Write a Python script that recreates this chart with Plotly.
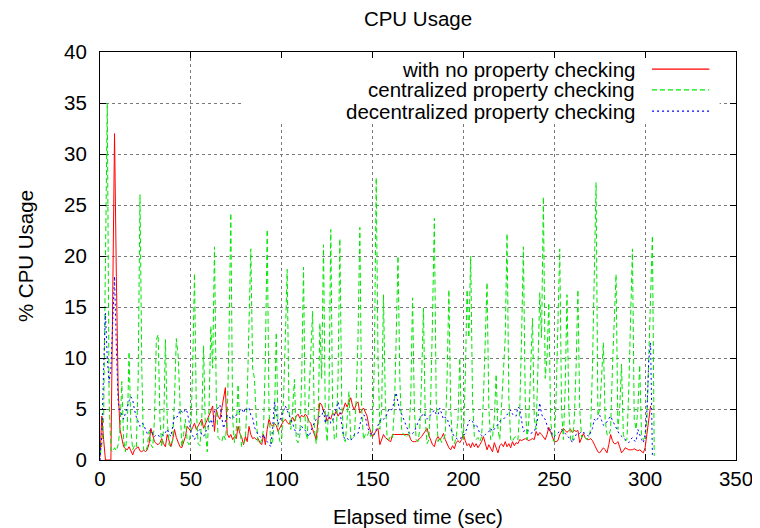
import plotly.graph_objects as go

# ---------------- data (1 sample per second) ----------------
no_check = [
    0.3, 4.3, 2.0, 0, 0, 0, 0, 16, 32, 18,
    7, 3, 2, 1.3, 1.1, 1.0, 1.3, 0.9, 0.5, 1.0,
    1.2, 1.3, 0.9, 0.8, 1.0, 0.8, 1.0, 1.6, 3.1, 2.3,
    1.8, 1.6, 1.5, 1.7, 2.1, 1.6, 1.3, 2.5, 1.8, 1.3,
    2.0, 3.0, 2.2, 1.7, 1.3, 1.2, 1.8, 2.3, 3.3, 3.0,
    2.8, 3.2, 3.6, 3.0, 3.3, 3.7, 4.0, 3.1, 3.5, 4.0,
    4.4, 4.8, 5.3, 2.8, 4.9, 4.3, 4.0, 5.0, 6.0, 7.1,
    2.6, 2.2, 2.5, 2.0, 2.3, 2.1, 3.3, 2.6, 2.2, 1.5,
    2.3, 1.8, 3.3, 2.5, 2.1, 2.2, 2.0, 2.1, 1.7, 1.5,
    2.5, 1.5, 3.0, 4.0, 3.5, 3.3, 3.6, 3.4, 2.8, 3.2,
    3.5, 3.8, 4.0, 3.7, 3.5, 3.9, 4.2, 3.8, 4.3, 4.5,
    4.1, 4.4, 4.2, 4.5, 4.3, 3.8, 3.6, 3.0, 2.5, 2.0,
    4.0, 5.6, 5.4, 4.8, 4.5, 3.8, 4.2, 4.0, 4.6, 4.4,
    4.8, 4.3, 4.6, 4.5, 5.0, 5.6, 5.2, 5.7, 6.1, 5.3,
    4.9, 5.5, 5.7, 4.6, 4.9, 5.1, 4.7, 4.3, 3.3, 2.8,
    2.3, 2.6, 2.9, 3.1, 1.5, 2.0, 2.5, 2.2, 2.0, 1.9,
    1.8, 2.5, 2.5, 2.5, 2.5, 2.5, 2.5, 2.5, 2.5, 2.5,
    2.5, 2.0, 1.8, 1.8, 1.8, 2.0, 2.1, 2.3, 2.6, 2.9,
    3.1, 2.4, 2.0, 1.5, 1.3, 2.0, 2.3, 2.0, 2.2, 2.6,
    2.0, 1.5, 1.2, 1.0, 1.4, 1.1, 1.7, 1.9, 1.7, 2.0,
    2.5, 1.9, 1.4, 1.6, 1.2, 1.7, 1.3, 1.6, 1.2, 1.5,
    1.8, 2.3, 1.6, 1.0, 1.5, 1.2, 0.8, 1.7, 1.1, 0.7,
    1.4, 1.6, 1.3, 1.8, 1.3, 1.6, 1.2, 1.8, 1.4, 1.7,
    1.6, 2.0, 1.9, 2.0, 2.1, 2.0, 1.9, 2.0, 2.1, 2.0,
    2.8, 2.4, 2.7, 2.5, 2.2, 2.0, 2.5, 3.2, 2.7, 2.3,
    1.8, 1.8, 1.9, 2.5, 2.8, 3.1, 2.9, 2.7, 2.9, 3.0,
    2.7, 2.9, 2.8, 2.9, 1.7, 2.2, 2.6, 2.2, 2.0, 2.0,
    2.1, 1.9, 1.5, 1.1, 0.8, 0.7, 1.0, 1.2, 1.0, 0.7,
    1.5, 2.5, 1.9, 1.6, 1.6, 1.8, 1.3, 0.7, 0.9, 1.2,
    1.1, 1.0, 1.0, 1.0, 1.1, 1.0, 0.9, 1.0, 0.8, 0.7,
    1.2, 2.6, 4.0, 5.3,
]

centralized = [
    0.5, 1.5, 4, 18, 35, 6, 1.0, 0.8, 1.2, 0.9,
    1.5, 3, 7.7, 2, 0.8, 3, 10.6, 3, 1.0, 1.4,
    1.2, 8, 26, 9, 1.0, 0.8, 1.3, 2.8, 1.5, 1.2,
    4, 11.8, 12.3, 4, 1.3, 3, 11.8, 4, 1.5, 1.3,
    2, 6, 11.9, 10.2, 5, 1.3, 2.5, 4, 1.8, 1.5,
    3, 9, 18.3, 5, 1.6, 1.4, 4, 11.2, 3, 0.8,
    5, 13.1, 9, 20.9, 6, 2.2, 2.0, 1.8, 2.5, 2.0,
    4, 12, 24.2, 4, 1.7, 3, 7.4, 3, 1.3, 1.6,
    2, 6, 13, 20.7, 9, 8, 4, 1.7, 1.6, 2,
    3, 10, 22.6, 5, 1.5, 1.8, 4, 12.5, 3, 1.8,
    2, 6, 12, 18.7, 5, 3, 5, 7.9, 2, 1.7,
    2.5, 8, 18.9, 3, 2, 6, 9, 14.6, 3, 1.6,
    3, 13.4, 8, 21.1, 4, 1.8, 6, 22.6, 5, 2,
    2.2, 8, 21.7, 6, 2.1, 1.8, 4, 6.7, 2, 2.2,
    2.3, 6, 12, 22.8, 5, 2, 2.5, 2.3, 2.8, 2.3,
    2.5, 10, 27.7, 10, 3, 5, 16.2, 6, 2.2, 2,
    2.4, 2.2, 5, 12, 20, 8, 3, 2.5, 2.4, 2.2,
    2.6, 6, 15.9, 5, 2, 1.8, 3, 8, 14.9, 4,
    1.6, 2, 6, 14, 23.7, 6, 1.8, 2.2, 1.7, 2,
    2.5, 8, 16.7, 5, 1.8, 1.6, 2.2, 4, 10, 3,
    2, 8, 16.7, 12, 20, 6, 2.3, 2.0, 2.2, 1.8,
    2.3, 6, 12, 17.4, 5, 2, 2.2, 4, 8.4, 3,
    2, 5, 8.2, 12, 22.2, 6, 2, 1.8, 2.2, 2.3,
    2, 5, 12, 20.9, 6, 2, 4, 9, 13.9, 4,
    3, 9, 16.4, 12, 25.8, 8, 10, 15.4, 4, 2,
    1.8, 6, 14, 20.7, 5, 2, 7, 16.2, 5, 2,
    1.8, 4, 9, 16.7, 5, 2.2, 2.4, 2.2, 2, 2.3,
    3, 9, 18, 27.2, 4.3, 5, 8, 11.5, 4, 2.5,
    2.4, 3, 9, 14, 18.2, 3, 5, 9.4, 2.5, 1.9,
    2, 7, 14, 20.7, 4, 3, 5, 9.3, 2.5, 2,
    2.2, 4, 10, 17, 22, 0.4,
]

decentralized = [
    0, 2.5, 9, 14.4, 10, 7.6, 9, 14, 18, 11,
    5.6, 4.9, 4.5, 4.0, 4.6, 5.3, 5.8, 6.2, 5.9, 4.9,
    4.2, 3.8, 3.3, 3.6, 3.5, 3.0, 2.6, 2.8, 3.0, 2.5,
    2.3, 2.5, 2.4, 2.3, 2.5, 2.4, 2.7, 3.0, 2.6, 2.3,
    3.3, 4.3, 4.2, 4.3, 4.9, 4.7, 4.6, 5.0, 4.7, 3.8,
    2.8, 2.4, 2.0, 2.4, 2.8, 3.0, 2.5, 2.3, 2.7, 3.0,
    3.5, 4.0, 3.3, 4.8, 4.9, 5.1, 5.4, 4.2, 3.1, 3.8,
    4.4, 4.2, 4.1, 4.3, 4.1, 4.4, 4.6, 4.8, 5.0, 4.6,
    5.1, 4.9, 5.1, 4.4, 4.1, 3.2, 2.8, 2.5, 2.3, 2.1,
    2.5, 2.0, 1.8, 1.6, 1.3, 3.1, 5.7, 4.6, 3.5, 3.9,
    4.3, 4.8, 5.3, 4.8, 4.4, 4.0, 3.6, 3.0, 2.7, 2.5,
    2.9, 3.3, 3.0, 2.9, 2.6, 2.3, 2.8, 3.3, 3.7, 4.0,
    4.1, 4.3, 4.3, 4.9, 3.6, 4.4, 4.4, 3.6, 3.9, 4.4,
    5.0, 5.7, 4.8, 3.3, 2.3, 2.0, 2.1, 2.0, 1.9, 2.2,
    2.5, 2.5, 2.6, 3.4, 4.3, 4.4, 4.3, 3.3, 2.8, 2.5,
    2.6, 2.5, 3.0, 3.5, 3.8, 4.1, 4.0, 4.1, 4.5, 5.0,
    4.9, 5.0, 6.0, 6.6, 5.6, 4.9, 4.5, 4.0, 3.5, 3.0,
    2.7, 2.5, 2.6, 2.8, 3.3, 3.6, 4.1, 4.3, 4.6, 4.3,
    4.0, 4.2, 4.4, 4.7, 4.9, 4.5, 4.4, 5.1, 4.6, 4.0,
    4.2, 4.1, 3.5, 3.0, 2.6, 2.3, 2.1, 2.0, 2.1, 2.2,
    2.4, 2.6, 3.2, 3.8, 4.0, 3.8, 3.3, 3.5, 3.1, 2.6,
    2.4, 2.3, 2.5, 2.6, 2.8, 3.1, 2.8, 3.0, 3.2, 3.5,
    3.8, 3.9, 4.0, 4.2, 4.4, 4.7, 4.9, 4.5, 4.3, 4.3,
    5.2, 5.0, 3.8, 2.8, 2.9, 3.0, 2.8, 2.6, 2.7, 2.8,
    3.3, 4.2, 5.6, 4.5, 4.1, 4.0, 3.4, 2.8, 3.0, 2.4,
    2.3, 2.5, 2.7, 2.8, 3.0, 2.8, 2.6, 2.4, 2.3, 2.0,
    1.7, 2.1, 2.5, 2.6, 2.6, 2.8, 2.7, 2.6, 2.5, 2.3,
    2.7, 3.1, 4.0, 3.8, 4.1, 4.4, 3.9, 3.4, 3.5, 3.8,
    4.1, 4.3, 3.9, 3.5, 3.1, 2.8, 2.5, 2.3, 2.1, 2.0,
    1.9, 1.7, 2.0, 2.2, 1.9, 1.8, 3.0, 2.4, 2.0, 1.7,
    2.5, 4.9, 9.8, 11.5, 0.4,
]

series_names = [
    "with no property checking",
    "centralized property checking",
    "decentralized property checking",
]
x_ticks = [0, 50, 100, 150, 200, 250, 300, 350]
y_ticks = [0, 5, 10, 15, 20, 25, 30, 35, 40]

# ---------------- figure ----------------
FONT = "Liberation Sans, Arial, Helvetica, sans-serif"
FS = 20.5
colors = ["#ff0000", "#00e600", "#0000ff"]
dashes = ["solid", "5px,3px", "2px,3px"]

fig = go.Figure()
for name, ys, col, dsh in zip(series_names, [no_check, centralized, decentralized], colors, dashes):
    fig.add_trace(go.Scatter(
        x=list(range(len(ys))), y=ys, mode="lines", name=name,
        line=dict(color=col, width=1, dash=dsh),
        showlegend=False, hoverinfo="skip",
    ))

# white key box masking grid (gnuplot style key)
fig.add_shape(type="rect", xref="x", yref="y", x0=78, x1=341, y0=33.0, y1=39.7,
              fillcolor="white", line=dict(width=0), layer="between")

# key: right-aligned labels with line samples on the right
key_y = [0.958, 0.907, 0.855]
for name, col, dsh, ky in zip(series_names, colors, dashes, key_y):
    fig.add_annotation(xref="paper", yref="paper", x=0.845, y=ky, text=name,
                       showarrow=False, xanchor="right", yanchor="middle",
                       font=dict(family=FONT, size=FS, color="black"))
    fig.add_shape(type="line", xref="paper", yref="paper", x0=0.868, x1=0.958,
                  y0=ky, y1=ky, line=dict(color=col, width=1.3, dash=dsh))

axis_common = dict(
    showline=True, linecolor="black", linewidth=1, mirror="ticks",
    ticks="inside", ticklen=6, tickcolor="black",
    showgrid=True, gridcolor="#7a7a7a", griddash="dot", gridwidth=1,
    zeroline=False, automargin=False,
    tickfont=dict(family=FONT, size=FS, color="black"),
)

fig.update_xaxes(range=[0, 350], tickvals=x_ticks, ticktext=[str(v) for v in x_ticks],
                 title=dict(text="Elapsed time (sec)", font=dict(family=FONT, size=FS, color="black"), standoff=24),
                 ticklabelstandoff=0, **axis_common)
fig.update_yaxes(range=[0, 40], tickvals=y_ticks, ticktext=[str(v) for v in y_ticks],
                 title=dict(text="% CPU Usage", font=dict(family=FONT, size=FS, color="black"), standoff=24),
                 ticklabelstandoff=8, **axis_common)

# the page body adds an 8px offset; size the figure to fill the rest
fig.update_layout(
    width=752, height=520,
    margin=dict(l=92, r=24, t=44, b=68),
    paper_bgcolor="white", plot_bgcolor="white",
    title=dict(text="CPU Usage", x=0.5, xref="paper", xanchor="center",
               yref="container", y=0.979, yanchor="middle",
               font=dict(family=FONT, size=FS, color="black")),
    font=dict(family=FONT, size=FS, color="black"),
)

fig.write_html("out.html")
